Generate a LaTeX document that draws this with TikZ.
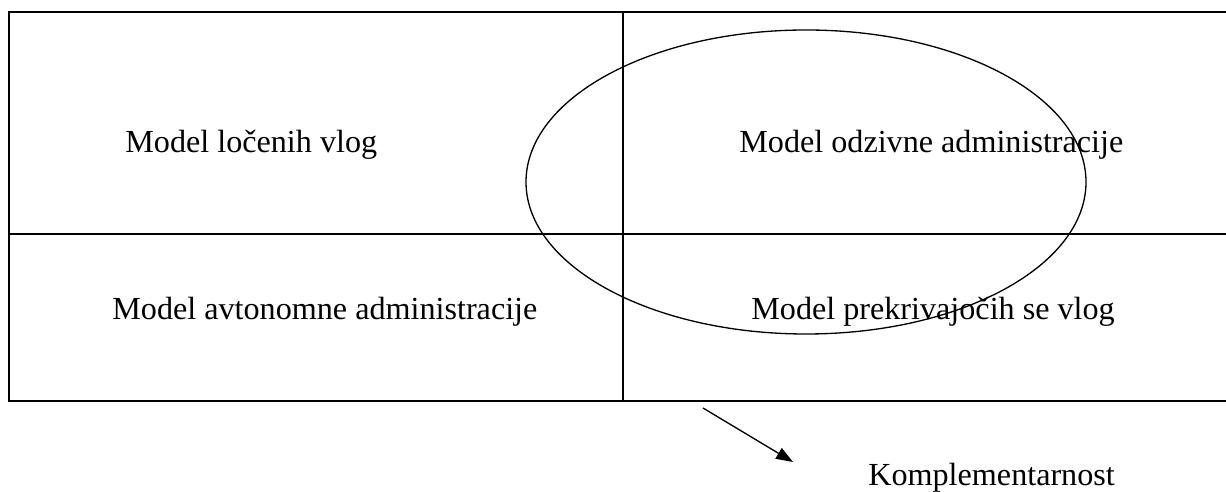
\documentclass[tikz,border=0pt]{standalone}
\usepackage{fontspec}
\setmainfont{Liberation Serif}
\usetikzlibrary{arrows.meta,positioning}

\begin{document}
\begin{tikzpicture}[x=0.02cm,y=-0.02cm,
  cell/.style={anchor=base west,inner sep=0pt,font=\fontsize{18.3}{22}\selectfont}]
  \useasboundingbox (0,0) rectangle (1226,492);
  % frame and cross
  \draw[line width=1.3pt] (1226,12) -- (9,12) -- (9,401) -- (1226,401);
  \draw[line width=1.3pt] (9,234) -- (1226,234);
  \draw[line width=1pt] (623,12) -- (623,401);
  \draw[line width=0.75pt] (806,182) ellipse [x radius=280, y radius=152];
  \foreach \x/\y/\t[count=\i] in {125/153/Model ločenih vlog, 739/153/Model odzivne administracije,
    112/320/Model avtonomne administracije, 751/320/Model prekrivajočih se vlog} {
    \node[cell] (model\i) at (\x,\y) {\t};
  }
  \node[cell] (kompl) at (868,486) {Komplementarnost};
  \coordinate (arrfrom) at (703,408);
  \coordinate (arrto) at (793,462);
  \draw[-{Triangle[length=9.6pt,width=7pt]}, line width=0.75pt] (arrfrom) -- (arrto);
\end{tikzpicture}
\end{document}
